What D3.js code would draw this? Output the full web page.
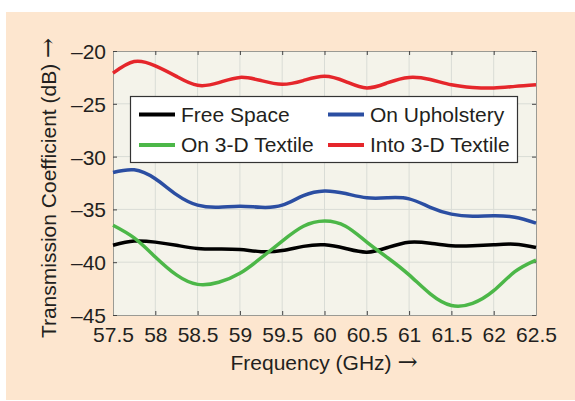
<!DOCTYPE html>
<html>
<head>
<meta charset="utf-8">
<script src="https://d3js.org/d3.v7.min.js"></script>
<style>
  body { margin: 0; background: #fff; }
  svg text { font-family: "Liberation Sans", Arial, sans-serif; fill: #231f20; }
</style>
</head>
<body>
<svg width="575" height="401"></svg>
<script>
// frequency samples (GHz)
var freq = [57.5, 57.75, 58, 58.25, 58.5, 58.75, 59, 59.25, 59.5, 59.75, 60,
            60.25, 60.5, 60.75, 61, 61.25, 61.5, 61.75, 62, 62.25, 62.5];

var freeSpace = [-38.4, -38.0, -38.1, -38.4, -38.7, -38.75, -38.8, -39.0, -38.9, -38.5, -38.35,
                 -38.7, -39.05, -38.6, -38.1, -38.2, -38.45, -38.45, -38.35, -38.3, -38.6];
var onUpholstery = [-31.5, -31.25, -32.1, -33.6, -34.6, -34.8, -34.7, -34.8, -34.6, -33.7, -33.25,
                    -33.5, -33.9, -33.9, -34.0, -34.8, -35.45, -35.65, -35.6, -35.75, -36.3];
var on3D = [-36.5, -37.7, -39.5, -41.2, -42.1, -41.9, -41.05, -39.6, -38.0, -36.6, -36.1,
            -36.6, -38.1, -39.6, -41.2, -43.0, -44.1, -43.9, -42.7, -40.9, -39.8];
var into3D = [-22.1, -21.0, -21.4, -22.4, -23.25, -23.0, -22.5, -22.8, -23.15, -22.8, -22.4,
              -22.9, -23.5, -23.0, -22.5, -22.7, -23.2, -23.45, -23.5, -23.35, -23.2];

var seriesNames = ["Free Space", "On Upholstery", "On 3-D Textile", "Into 3-D Textile"];
var seriesColors = ["#000000", "#2b4ea2", "#4cb748", "#e5262b"];
var seriesValues = [freeSpace, onUpholstery, on3D, into3D];

var xTicks = [57.5, 58, 58.5, 59, 59.5, 60, 60.5, 61, 61.5, 62, 62.5];
var yTicks = [-20, -25, -30, -35, -40, -45];

var svg = d3.select("svg");

// peach panel
svg.append("rect")
    .attr("x", 6).attr("y", 12)
    .attr("width", 569).attr("height", 388)
    .attr("fill", "#fde6cf");

var pLeft = 113, pRight = 536, pTop = 51, pBottom = 315;

var x = d3.scaleLinear().domain([57.5, 62.5]).range([pLeft, pRight]);
var y = d3.scaleLinear().domain([-45, -20]).range([pBottom, pTop]);

svg.append("rect")
    .attr("x", pLeft).attr("y", pTop)
    .attr("width", pRight - pLeft).attr("height", pBottom - pTop)
    .attr("fill", "#f4f3ea");

// grid
var grid = svg.append("g").attr("stroke", "#d9dcd6").attr("stroke-width", 1);
grid.selectAll(".vx").data(xTicks.slice(1, -1)).enter().append("line")
    .attr("x1", function(d) { return x(d); }).attr("x2", function(d) { return x(d); })
    .attr("y1", pTop).attr("y2", pBottom);
grid.selectAll(".hy").data(yTicks.slice(1, -1)).enter().append("line")
    .attr("y1", function(d) { return y(d); }).attr("y2", function(d) { return y(d); })
    .attr("x1", pLeft).attr("x2", pRight);

// axes (ticks pointing inward, like matlab)
var fmtX = function(d) { return String(d); };
var fmtY = function(d) { return "\u2013" + Math.abs(d); };

var axB = svg.append("g").attr("transform", "translate(0," + pBottom + ")")
    .call(d3.axisBottom(x).tickValues(xTicks).tickSize(-4).tickFormat(fmtX));
var axT = svg.append("g").attr("transform", "translate(0," + pTop + ")")
    .call(d3.axisTop(x).tickValues(xTicks).tickSize(-4).tickFormat(""));
var axL = svg.append("g").attr("transform", "translate(" + pLeft + ",0)")
    .call(d3.axisLeft(y).tickValues(yTicks).tickSize(-4).tickFormat(fmtY));
var axR = svg.append("g").attr("transform", "translate(" + pRight + ",0)")
    .call(d3.axisRight(y).tickValues(yTicks).tickSize(-4).tickFormat(""));

[axB, axT, axL, axR].forEach(function(a) {
  a.select(".domain").attr("stroke", "#9a9a94");
  a.selectAll(".tick line").attr("stroke", "#444");
  a.selectAll("text").attr("font-size", 21).attr("fill", "#231f20");
});
axB.selectAll("text").attr("y", 12);
axL.selectAll("text").attr("x", -7).attr("dy", "0.36em");

// curves
var line = d3.line()
    .x(function(d, i) { return x(freq[i]); })
    .y(function(d) { return y(d); })
    .curve(d3.curveNatural);

svg.append("g").selectAll("path")
    .data(seriesValues)
    .enter().append("path")
    .attr("d", line)
    .attr("fill", "none")
    .attr("stroke", function(d, i) { return seriesColors[i]; })
    .attr("stroke-width", 3.5);

// legend
var lg = svg.append("g");
lg.append("rect")
    .attr("x", 130.5).attr("y", 96.5)
    .attr("width", 387).attr("height", 66)
    .attr("fill", "#fff").attr("stroke", "#333").attr("stroke-width", 1.2);

var legendPos = [[139, 114.5], [328, 114.5], [139, 145], [328, 145]];
seriesNames.forEach(function(name, i) {
  var p = legendPos[i];
  lg.append("line")
      .attr("x1", p[0]).attr("x2", p[0] + 36)
      .attr("y1", p[1]).attr("y2", p[1])
      .attr("stroke", seriesColors[i]).attr("stroke-width", 4);
  lg.append("text")
      .attr("x", p[0] + 42).attr("y", p[1] + 7)
      .attr("font-size", 21)
      .text(name);
});

// axis titles
var xt = svg.append("text")
    .attr("x", 324).attr("y", 370)
    .attr("text-anchor", "middle")
    .attr("font-size", 21)
    .text("Frequency (GHz) ");
xt.append("tspan").attr("font-family", "DejaVu Serif").attr("font-size", 24).text("\u2192");

var yt = svg.append("text")
    .attr("transform", "translate(56,188) rotate(-90)")
    .attr("text-anchor", "middle")
    .attr("font-size", 21)
    .text("Transmission Coefficient (dB) ");
yt.append("tspan").attr("font-family", "DejaVu Serif").attr("font-size", 24).text("\u2192");
</script>
</body>
</html>
